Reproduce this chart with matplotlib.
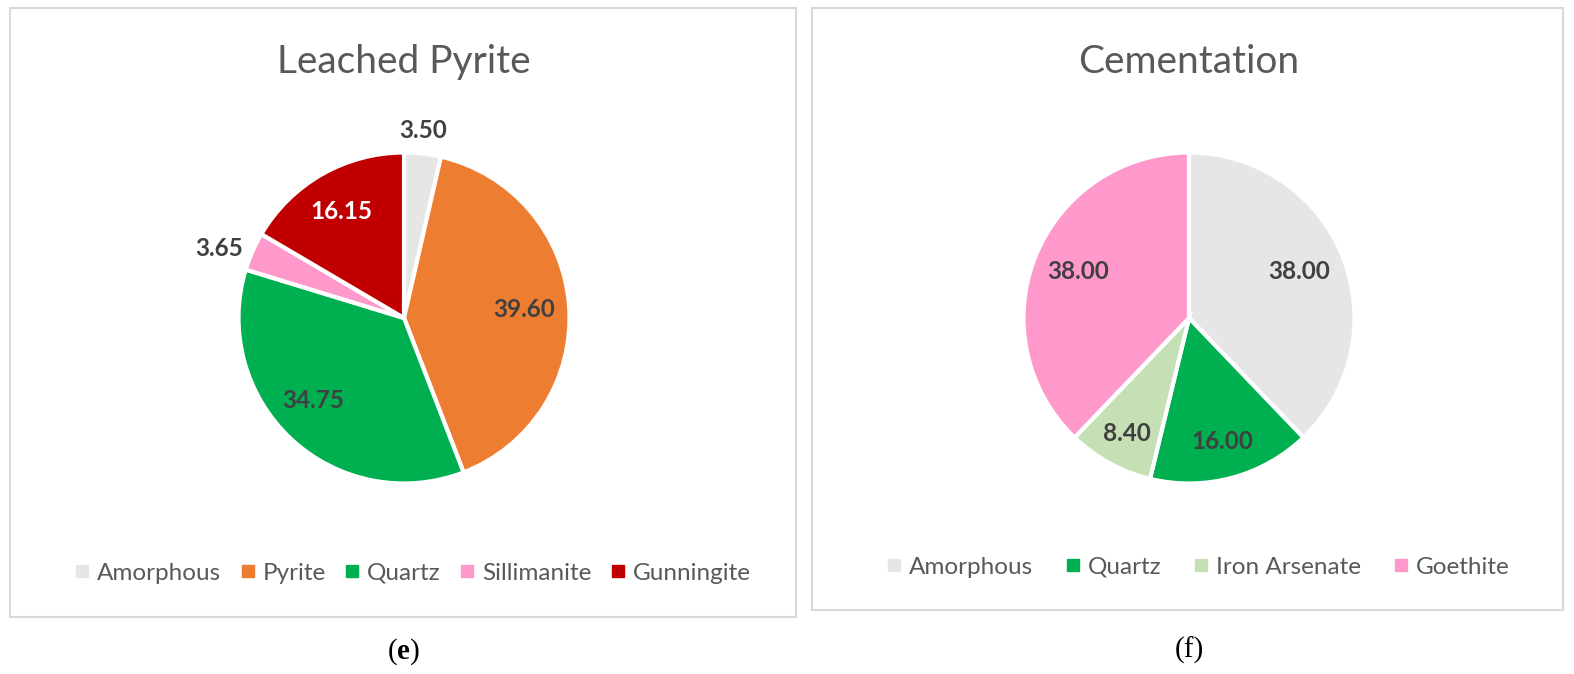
import numpy as np
import matplotlib
matplotlib.use("Agg")
import matplotlib.pyplot as plt
from matplotlib.lines import Line2D
from matplotlib.patches import Rectangle

plt.rcParams['mathtext.fontset'] = 'custom'
plt.rcParams['mathtext.rm'] = 'Liberation Serif'
plt.rcParams['mathtext.bf'] = 'Liberation Serif:bold'

# ---- data ----
left_title = "Leached Pyrite"
left_labels = ["Amorphous", "Pyrite", "Quartz", "Sillimanite", "Gunningite"]
left_values = [3.50, 39.60, 34.75, 3.65, 16.15]
left_colors = ["#E7E6E6", "#ED7D31", "#00B050", "#FF99CC", "#C00000"]

right_title = "Cementation"
right_labels = ["Amorphous", "Quartz", "Iron Arsenate", "Goethite"]
right_values = [38.00, 16.00, 8.40, 38.00]
right_colors = ["#E7E6E6", "#00B050", "#C5E0B4", "#FF99CC"]

W, H = 1574, 674
DPI = 100
fig = plt.figure(figsize=(W / DPI, H / DPI), dpi=DPI)
FONT = "Lato"
TXT = "#595959"
LBL = "#404040"

def px(x, y, w, h):
    return [x / W, 1 - (y + h) / H, w / W, h / H]

def draw_panel(box, cx, cy, r, title, labels, values, colors, lab_r, lab_da, lab_col,
               leg_x, leg_y, colsp, tag, tag_y):
    bx, by, bw, bh = box
    fig.patches.append(Rectangle((bx / W, 1 - (by + bh) / H), bw / W, bh / H,
                                 transform=fig.transFigure, fill=False,
                                 edgecolor="#D9D9D9", linewidth=1.5))
    ax = fig.add_axes(px(cx - r, cy - r, 2 * r, 2 * r))
    wedges, _ = ax.pie(values, colors=colors, startangle=90, counterclock=False,
                       radius=1, wedgeprops=dict(edgecolor="white", linewidth=3))
    ax.set_xlim(-1, 1)
    ax.set_ylim(-1, 1)
    ax.set_aspect("equal")
    ax.axis("off")
    for w, v, rr, da, c in zip(wedges, values, lab_r, lab_da, lab_col):
        ang = np.deg2rad((w.theta1 + w.theta2) / 2 + da)
        ax.text(rr * np.cos(ang), rr * np.sin(ang), f"{v:.2f}", ha="center", va="center",
                fontsize=17.5, fontweight="bold", color=c, family=FONT, clip_on=False)
    fig.text(cx / W, 1 - 62 / H, title, ha="center", va="center", fontsize=28,
             color=TXT, family=FONT)
    handles = [Line2D([], [], marker="s", linestyle="none", markersize=9,
                      markerfacecolor=c, markeredgecolor=c) for c in colors]
    fig.legend(handles, labels, loc="center", bbox_to_anchor=(leg_x / W, 1 - leg_y / H),
               ncol=len(labels), frameon=False, handletextpad=0.1, columnspacing=colsp,
               handlelength=1.0, prop=dict(family=FONT, size=17.5), labelcolor=TXT)
    fig.text(cx / W, 1 - tag_y / H, tag, ha="center", va="center", fontsize=21,
             family="Liberation Serif", color="black")

draw_panel((10, 8, 786, 609), 404, 318, 165.5, left_title, left_labels, left_values, left_colors,
           lab_r=[1.14, 0.73, 0.74, 1.19, 0.75], lab_da=[0.6, 0, -5, 3.2, 0.7],
           lab_col=[LBL, LBL, LBL, LBL, "white"], leg_x=410.5, leg_y=573, colsp=0.6,
           tag=r"($\mathbf{e}$)", tag_y=652)
draw_panel((812, 8, 751, 602), 1189, 318, 165.5, right_title, right_labels, right_values, right_colors,
           lab_r=[0.72, 0.77, 0.79, 0.726], lab_da=[1.2, 0, 0.5, -1],
           lab_col=[LBL, LBL, LBL, LBL], leg_x=1195.5, leg_y=567, colsp=1.15,
           tag="(f)", tag_y=650)

fig.savefig("out.png", dpi=DPI)
